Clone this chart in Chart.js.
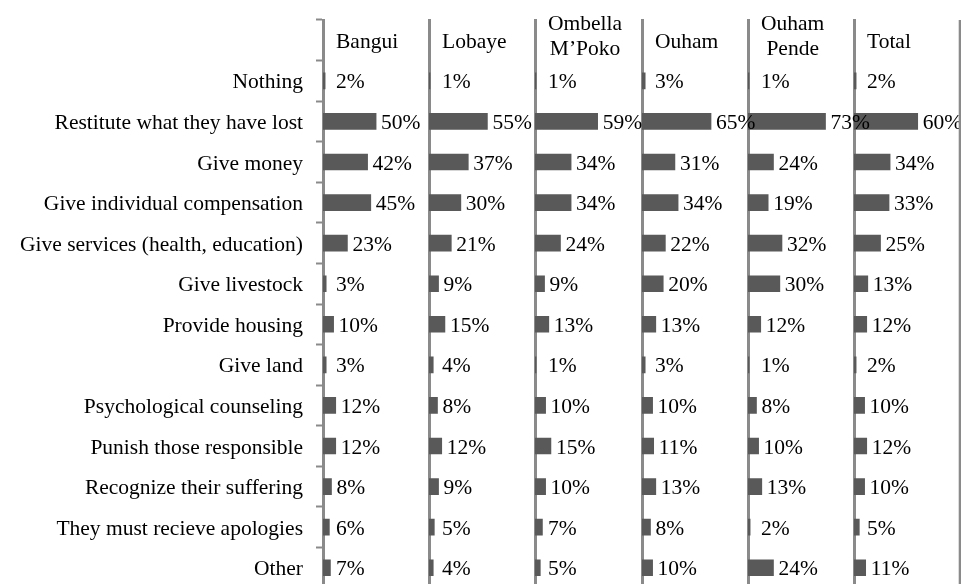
<!DOCTYPE html>
<html>
<head>
<meta charset="utf-8">
<script src="https://cdn.jsdelivr.net/npm/chart.js@4"></script>
<style>
  html, body { margin: 0; padding: 0; background: #fff; overflow: hidden; }
  #wrap { position: relative; width: 961px; height: 584px; }
  canvas { position: absolute; top: 0; }
</style>
</head>
<body>
<div id="wrap"></div>
<script>
// header row first (empty), then the answers
const categories = ['', 'Nothing', 'Restitute what they have lost', 'Give money', 'Give individual compensation',
  'Give services (health, education)', 'Give livestock', 'Provide housing', 'Give land',
  'Psychological counseling', 'Punish those responsible', 'Recognize their suffering',
  'They must recieve apologies', 'Other'];

const regions = [['Bangui'], ['Lobaye'], ['Ombella', 'M\u2019Poko'], ['Ouham'], ['Ouham', 'Pende'], ['Total']];

const bangui      = [2, 50, 42, 45, 23, 3, 10, 3, 12, 12, 8, 6, 7];
const lobaye      = [1, 55, 37, 30, 21, 9, 15, 4, 8, 12, 9, 5, 4];
const ombella     = [1, 59, 34, 34, 24, 9, 13, 1, 10, 15, 10, 7, 5];
const ouham       = [3, 65, 31, 34, 22, 20, 13, 3, 10, 11, 13, 8, 10];
const ouhamPende  = [1, 73, 24, 19, 32, 30, 12, 1, 8, 10, 13, 2, 24];
const total       = [2, 60, 34, 33, 25, 13, 12, 2, 10, 12, 10, 5, 11];

const series = [bangui, lobaye, ombella, ouham, ouhamPende, total];

const FONT = '"Liberation Serif", "Times New Roman", serif';
const FSIZE = 21.5;
const axisColor = '#8a8a8a';
const firstAxis = 323;
const panelW = 106.2;
const labelW = 323;
const overflow = 60;

const labelsPlugin = {
  id: 'barLabels',
  afterDatasetsDraw(chart, args, opts) {
    const ctx = chart.ctx;
    const area = chart.chartArea;
    const yScale = chart.scales.y;
    ctx.save();
    ctx.font = FSIZE + 'px ' + FONT;
    ctx.fillStyle = '#000';
    ctx.textBaseline = 'middle';
    // panel header in the first row
    const head = opts.title;
    const hy = yScale.getPixelForValue(0) + 2 - (head.length > 1 ? 5 : 0);
    const widths = head.map(t => ctx.measureText(t).width);
    const maxW = Math.max(...widths);
    const cx = area.left + 13 + maxW / 2;
    ctx.textAlign = 'center';
    head.forEach((t, k) => {
      const off = (k - (head.length - 1) / 2) * 25;
      ctx.fillText(t, cx, hy + off);
    });
    // value labels
    ctx.textAlign = 'left';
    const meta = chart.getDatasetMeta(0);
    meta.data.forEach((bar, i) => {
      const v = chart.data.datasets[0].data[i];
      if (v === null) return;
      const x = Math.max(bar.x + 5, area.left + 13);
      ctx.fillText(v + '%', x, bar.y + 2);
    });
    if (opts.rightEdge) {
      ctx.strokeStyle = axisColor;
      ctx.lineWidth = 3;
      ctx.beginPath();
      ctx.moveTo(area.right, area.top);
      ctx.lineTo(area.right, area.bottom);
      ctx.stroke();
    }
    ctx.restore();
  }
};

const wrap = document.getElementById('wrap');

series.forEach((vals, p) => {
  const first = p === 0;
  const axisX = firstAxis + p * panelW;
  const leftW = first ? labelW : 10;
  const cv = document.createElement('canvas');
  const w = Math.ceil(leftW + panelW + overflow);
  cv.style.left = (axisX - leftW) + 'px';
  cv.style.width = w + 'px';
  cv.style.height = '588px';
  cv.style.zIndex = 10 - p;   // labels spilling over the next panel stay on top
  cv.width = w;
  cv.height = 588;
  wrap.appendChild(cv);

  new Chart(cv.getContext('2d'), {
    type: 'bar',
    data: {
      labels: categories,
      datasets: [{
        data: [null].concat(vals),
        backgroundColor: '#595959',
        barThickness: 16
      }]
    },
    options: {
      indexAxis: 'y',
      responsive: false,
      animation: false,
      layout: { padding: { top: 20, right: w - leftW - panelW, bottom: 0, left: 0 } },
      scales: {
        x: { display: false, min: 0, max: 100 },
        y: {
          afterFit(s) {
            s.width = leftW;
            s.paddingTop = 0;
            s.paddingBottom = 0;
          },
          border: { display: true, color: axisColor, width: 3 },
          grid: {
            display: first,
            drawOnChartArea: false,
            drawTicks: true,
            offset: true,
            tickLength: 7,
            tickWidth: 2,
            color: axisColor,
            tickColor: axisColor
          },
          ticks: {
            display: first,
            padding: 13,
            labelOffset: 2,
            color: '#000',
            font: { family: FONT, size: FSIZE }
          }
        }
      },
      plugins: {
        legend: { display: false },
        tooltip: { enabled: false },
        barLabels: { title: regions[p], rightEdge: p === series.length - 1 }
      }
    },
    plugins: [labelsPlugin]
  });
});
</script>
</body>
</html>
